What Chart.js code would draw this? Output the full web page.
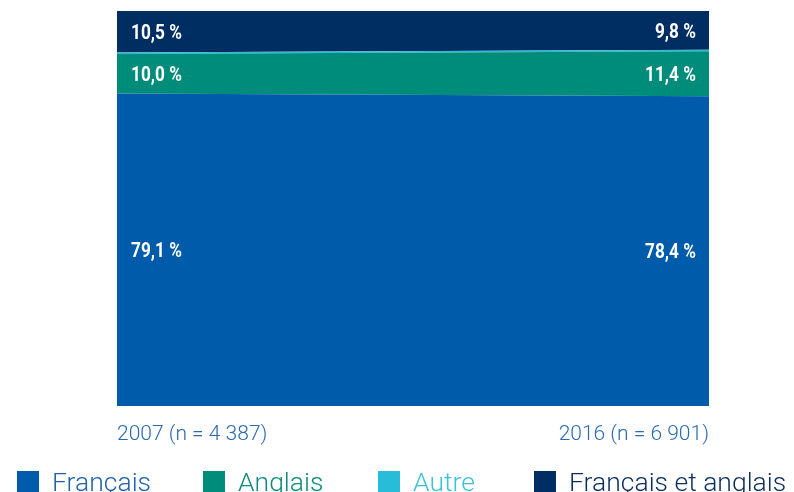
<!DOCTYPE html>
<html>
<head>
<meta charset="utf-8">
<script src="https://cdn.jsdelivr.net/npm/chart.js@4"></script>
<style>
  html, body { margin: 0; padding: 0; background: #fff; }
  #wrap { position: relative; width: 794px; height: 492px; overflow: hidden; }
  #legend { position: absolute; left: 0; top: 464px; width: 794px; height: 30px;
            font-family: Roboto, 'Liberation Sans', sans-serif; font-weight: 300; font-size: 26.5px; }
  .item { position: absolute; top: 0; white-space: nowrap; line-height: 30px; }
  .box { position: absolute; top: 4px; width: 22px; height: 21px; }
</style>
</head>
<body>
<div id="wrap">
  <canvas id="chart" width="794" height="492"></canvas>
  <div id="legend"></div>
</div>
<script>
// Data
const categories = ['2007 (n = 4 387)', '2016 (n = 6 901)'];
const seriesNames = ['Français', 'Anglais', 'Autre', 'Français et anglais'];
const francais = [79.1, 78.4];
const anglais = [10.0, 11.4];
const autre = [0.4, 0.4];
const francaisEtAnglais = [10.5, 9.8];
const colors = ['#005BAA', '#008C7B', '#27BCD8', '#002D62'];
const textColors = ['#1F62AE', '#0E8C7C', '#3CC1DC', '#0B2E5E'];

const allSeries = [francais, anglais, autre, francaisEtAnglais];
const yMax = Math.max(...categories.map((c, i) => allSeries.reduce((s, d) => s + d[i], 0)));

const fmt = v => v.toFixed(1).replace('.', ',') + ' %';

// Value labels inside bands (condensed bold look)
const bandLabels = {
    id: 'bandLabels',
    afterDatasetsDraw(chart) {
        const { ctx, chartArea } = chart;
        const sx = 0.82;
        ctx.save();
        ctx.font = 'bold 21px Roboto, "Liberation Sans", sans-serif';
        ctx.fillStyle = '#fff';
        ctx.textBaseline = 'middle';
        chart.data.datasets.forEach((ds, di) => {
            if (ds.label === 'Autre') return;
            const meta = chart.getDatasetMeta(di);
            meta.data.forEach((pt, i) => {
                const top = pt.y;
                const bottom = di === 0 ? chartArea.bottom : chart.getDatasetMeta(di - 1).data[i].y;
                const y = (top + bottom) / 2 + 2;
                ctx.save();
                if (i === 0) {
                    ctx.translate(chartArea.left + 14, y);
                    ctx.scale(sx, 1);
                    ctx.textAlign = 'left';
                } else {
                    ctx.translate(chartArea.right - 13, y);
                    ctx.scale(sx, 1);
                    ctx.textAlign = 'right';
                }
                ctx.fillText(fmt(ds.data[i]), 0, 0);
                ctx.restore();
            });
        });
        ctx.restore();
    }
};

new Chart(document.getElementById('chart'), {
    type: 'line',
    data: {
        labels: categories,
        datasets: allSeries.map((d, i) => ({
            label: seriesNames[i],
            data: d,
            backgroundColor: colors[i],
            borderColor: colors[i],
            borderWidth: 0,
            pointRadius: 0,
            fill: i === 0 ? 'origin' : '-1',
            tension: 0
        }))
    },
    options: {
        responsive: false,
        animation: false,
        layout: { padding: { left: 117, right: 85, top: 11, bottom: 46 } },
        plugins: {
            legend: { display: false },
            tooltip: { enabled: false }
        },
        scales: {
            x: {
                offset: false,
                grid: { display: false },
                border: { display: false },
                ticks: {
                    align: 'inner',
                    padding: 8,
                    color: '#2A6AB2',
                    font: { family: 'Roboto, "Liberation Sans", sans-serif', size: 21, weight: 300 },
                    maxRotation: 0
                },
                afterFit: s => { s.height = 40; }
            },
            y: {
                display: false,
                stacked: true,
                min: 0,
                max: yMax
            }
        }
    },
    plugins: [bandLabels]
});

// Legend
const legend = document.getElementById('legend');
const legendX = [17, 203, 378, 534];
seriesNames.forEach((name, i) => {
    const item = document.createElement('div');
    item.className = 'item';
    item.style.left = legendX[i] + 'px';
    item.style.color = textColors[i];
    item.style.top = '3px';
    item.innerHTML = '<span class="box" style="left:0;background:' + colors[i] + '"></span>' +
        '<span style="margin-left:35px">' + name + '</span>';
    legend.appendChild(item);
});
</script>
</body>
</html>
